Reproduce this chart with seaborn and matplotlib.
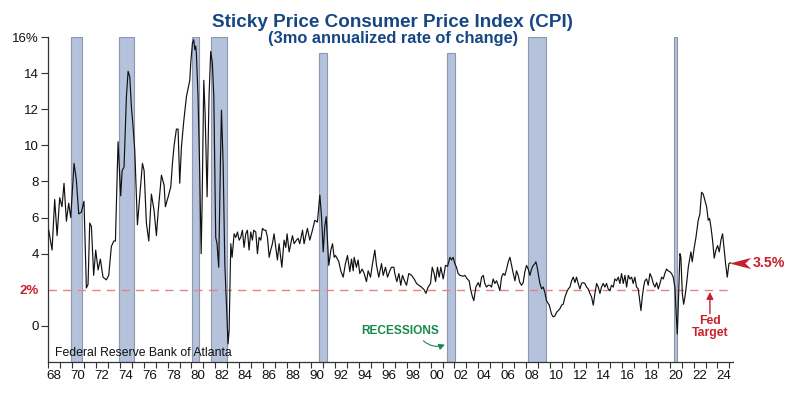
import matplotlib
matplotlib.use("Agg")
import matplotlib.pyplot as plt
from matplotlib.path import Path
import pandas as pd
import seaborn as sns

# Sticky price CPI, 3mo annualized rate of change (%)
dates = [
    1968.06, 1968.34, 1968.56, 1968.76, 1968.98, 1969.17, 1969.34, 1969.54, 1969.73, 1969.90,
    1970.18, 1970.37, 1970.57, 1970.79, 1971.01, 1971.21, 1971.35, 1971.49, 1971.63, 1971.82,
    1971.99, 1972.19, 1972.38, 1972.60, 1972.88, 1973.08, 1973.30, 1973.50, 1973.64, 1973.86,
    1974.08, 1974.20, 1974.36, 1974.56, 1974.70, 1974.84, 1974.98, 1975.12, 1975.26, 1975.48,
    1975.67, 1975.90, 1976.04, 1976.23, 1976.43, 1976.65, 1976.87, 1977.07, 1977.21, 1977.49,
    1977.71, 1977.82, 1978.05, 1978.27, 1978.41, 1978.55, 1978.74, 1978.88, 1979.02, 1979.16,
    1979.35, 1979.58, 1979.86, 1979.94, 1980.08, 1980.19, 1980.28, 1980.36, 1980.41, 1980.55,
    1980.69, 1980.81, 1980.89, 1981.03, 1981.14, 1981.31, 1981.47, 1981.61, 1981.75, 1981.87,
    1982.03, 1982.14, 1982.28, 1982.42, 1982.51, 1982.65, 1982.79, 1983.06, 1983.15, 1983.29,
    1983.40, 1983.57, 1983.71, 1983.85, 1983.99, 1984.12, 1984.26, 1984.40, 1984.54, 1984.68,
    1984.82, 1984.96, 1985.10, 1985.21, 1985.38, 1985.52, 1985.66, 1985.80, 1985.94, 1986.08,
    1986.22, 1986.36, 1986.50, 1986.63, 1986.77, 1986.91, 1987.05, 1987.19, 1987.33, 1987.56,
    1987.75, 1987.89, 1988.00, 1988.17, 1988.31, 1988.45, 1988.59, 1988.78, 1988.92, 1989.06,
    1989.29, 1989.42, 1989.56, 1989.70, 1989.90, 1990.12, 1990.32, 1990.54, 1990.74, 1990.88,
    1991.02, 1991.15, 1991.27, 1991.38, 1991.49, 1991.66, 1991.80, 1991.94, 1992.05, 1992.21,
    1992.33, 1992.49, 1992.69, 1992.88, 1993.05, 1993.25, 1993.39, 1993.53, 1993.61, 1993.80,
    1993.94, 1994.08, 1994.28, 1994.45, 1994.64, 1994.78, 1994.98, 1995.12, 1995.34, 1995.48,
    1995.67, 1995.90, 1996.04, 1996.23, 1996.40, 1996.59, 1996.73, 1996.93, 1997.01, 1997.18,
    1997.35, 1997.51, 1997.65, 1997.85, 1997.99, 1998.18, 1998.41, 1998.63, 1998.83, 1999.02,
    1999.24, 1999.47, 1999.61, 1999.80, 2000.00, 2000.14, 2000.30, 2000.42, 2000.58, 2000.72,
    2000.86, 2001.06, 2001.25, 2001.42, 2001.62, 2001.75, 2001.89, 2002.03, 2002.17, 2002.31,
    2002.45, 2002.73, 2002.87, 2003.07, 2003.23, 2003.34, 2003.51, 2003.62, 2003.79, 2003.99,
    2004.13, 2004.27, 2004.41, 2004.54, 2004.68, 2004.82, 2004.96, 2005.10, 2005.24, 2005.38,
    2005.52, 2005.66, 2005.80, 2005.94, 2006.08, 2006.22, 2006.36, 2006.50, 2006.64, 2006.78,
    2006.92, 2007.06, 2007.19, 2007.33, 2007.47, 2007.61, 2007.75, 2007.89, 2008.03, 2008.17,
    2008.31, 2008.45, 2008.59, 2008.73, 2008.81, 2008.92, 2009.03, 2009.15, 2009.29, 2009.43,
    2009.56, 2009.70, 2009.93, 2010.12, 2010.26, 2010.40, 2010.54, 2010.68, 2010.82, 2010.96,
    2011.10, 2011.24, 2011.38, 2011.52, 2011.66, 2011.80, 2011.94, 2012.08, 2012.21, 2012.35,
    2012.49, 2012.63, 2012.77, 2012.91, 2013.05, 2013.19, 2013.33, 2013.47, 2013.61, 2013.75,
    2013.89, 2014.03, 2014.17, 2014.30, 2014.44, 2014.58, 2014.72, 2014.86, 2015.00, 2015.14,
    2015.28, 2015.42, 2015.56, 2015.70, 2015.84, 2015.98, 2016.12, 2016.26, 2016.40, 2016.54,
    2016.68, 2016.82, 2016.95, 2017.09, 2017.23, 2017.37, 2017.46, 2017.60, 2017.71, 2017.82,
    2017.93, 2018.07, 2018.21, 2018.35, 2018.49, 2018.63, 2018.77, 2018.91, 2019.05, 2019.19,
    2019.33, 2019.47, 2019.60, 2019.74, 2019.88, 2020.02, 2020.16, 2020.30, 2020.44, 2020.55,
    2020.64, 2020.72, 2020.86, 2020.94, 2021.06, 2021.17, 2021.28, 2021.42, 2021.56, 2021.70,
    2021.78, 2021.89, 2022.06, 2022.20, 2022.39, 2022.53, 2022.67, 2022.81, 2022.95, 2023.09,
    2023.23, 2023.34, 2023.45, 2023.59, 2023.73, 2023.87, 2024.01, 2024.15, 2024.29, 2024.43,
    2024.54, 2024.68, 2024.82, 2024.96, 2025.10,
]
sticky_cpi = [
    5.3, 4.2, 7.0, 5.0, 7.1, 6.6, 7.9, 5.8, 6.8, 6.0,
    9.0, 8.1, 6.2, 6.3, 6.9, 2.1, 2.3, 5.7, 5.5, 2.8,
    4.2, 3.1, 3.7, 2.7, 2.55, 2.8, 4.4, 4.7, 4.7, 10.2,
    7.2, 8.6, 8.8, 12.7, 14.1, 13.8, 12.1, 11.0, 9.7, 5.6,
    7.15, 9.0, 8.6, 5.7, 4.7, 7.3, 6.4, 5.0, 6.3, 8.35,
    7.8, 6.6, 7.15, 7.7, 9.0, 10.0, 10.9, 10.9, 7.9, 9.9,
    11.3, 12.7, 13.6, 14.55, 15.65, 15.85, 15.3, 15.5, 15.1, 12.7,
    8.6, 4.0, 6.8, 13.6, 11.8, 7.15, 12.7, 15.2, 14.55, 12.7,
    4.9, 4.55, 3.25, 9.0, 11.95, 9.0, 3.45, -1.0, -0.25, 4.55,
    3.8, 5.1, 4.9, 5.2, 4.75, 4.9, 5.3, 4.35, 5.1, 5.3,
    4.2, 5.2, 4.75, 5.3, 5.2, 4.0, 4.9, 4.75, 5.4, 5.3,
    5.3, 4.9, 3.8, 4.2, 4.55, 5.1, 4.35, 3.65, 4.55, 3.25,
    4.75, 4.35, 5.1, 4.1, 4.55, 5.0, 4.55, 4.75, 4.85, 4.55,
    5.3, 4.55, 5.0, 5.4, 4.75, 5.3, 5.85, 5.75, 7.25, 6.05,
    4.1, 5.5, 6.05, 4.75, 3.35, 4.2, 4.55, 3.8, 3.9, 3.7,
    3.55, 3.05, 2.7, 3.45, 3.9, 3.0, 3.7, 3.05, 3.8, 3.25,
    3.65, 2.9, 3.15, 2.9, 2.45, 3.05, 2.7, 3.35, 4.2, 3.35,
    2.7, 3.45, 2.8, 3.25, 2.7, 3.05, 3.25, 3.25, 2.9, 2.45,
    2.9, 2.25, 2.8, 2.45, 2.25, 2.9, 2.8, 2.6, 2.35, 2.25,
    2.15, 2.0, 1.8, 2.15, 2.35, 3.25, 2.9, 2.45, 3.25, 2.7,
    3.25, 2.6, 3.35, 3.3, 3.8, 3.65, 3.8, 3.45, 3.25, 2.9,
    2.8, 2.75, 2.8, 2.6, 2.5, 2.05, 1.6, 1.4, 2.15, 2.4,
    2.15, 2.7, 2.8, 2.35, 2.15, 2.25, 2.25, 2.15, 2.6, 2.35,
    2.5, 2.25, 1.95, 2.7, 2.9, 2.8, 3.15, 3.55, 3.8, 3.35,
    2.9, 2.5, 3.05, 2.8, 2.4, 2.25, 2.4, 3.0, 3.35, 3.15,
    2.8, 3.15, 3.35, 3.45, 3.55, 3.25, 2.8, 2.35, 2.05, 2.15,
    1.85, 1.4, 1.15, 0.65, 0.5, 0.55, 0.75, 0.85, 0.95, 1.15,
    1.2, 1.6, 1.85, 2.05, 2.15, 2.5, 2.7, 2.4, 2.7, 2.35,
    2.05, 2.35, 2.4, 2.35, 2.15, 2.05, 1.8, 1.6, 1.15, 1.8,
    2.35, 2.15, 1.8, 2.15, 2.35, 2.15, 2.35, 2.05, 1.95, 2.25,
    2.15, 2.6, 2.5, 2.7, 2.35, 2.9, 2.35, 2.8, 2.15, 2.8,
    2.6, 2.7, 2.35, 2.7, 2.15, 2.05, 1.6, 0.85, 1.6, 2.15,
    2.5, 2.6, 2.25, 2.9, 2.7, 2.35, 2.15, 2.4, 2.05, 2.35,
    2.7, 2.6, 2.9, 3.15, 3.05, 3.0, 2.9, 2.7, 2.15, 0.65,
    -0.45, 1.05, 4.0, 3.8, 1.8, 1.2, 1.6, 2.35, 3.25, 3.8,
    4.1, 3.55, 4.35, 4.9, 5.85, 6.2, 7.4, 7.3, 6.95, 6.6,
    5.85, 5.95, 5.5, 4.75, 3.75, 4.2, 4.45, 4.1, 4.75, 5.1,
    4.35, 3.45, 2.7, 3.45, 3.5,
]

# recession bands as drawn (start, end, top of band in %)
rec_start = [1969.90, 1973.92, 1980.08, 1981.62, 1990.65, 2001.34, 2008.12, 2020.36]
rec_end = [1970.85, 1975.20, 1980.64, 1982.95, 1991.35, 2002.03, 2009.62, 2020.58]
rec_top = [16, 16, 16, 16, 15.1, 15.1, 16, 16]

fed_target = 2.0
latest_value = 3.5

year_labels = [f"{y % 100:02d}" for y in range(1968, 2025, 2)]
y_ticks = [0, 2, 4, 6, 8, 10, 12, 14, 16]
y_labels = ["0", "2%", "4", "6", "8", "10", "12", "14", "16%"]

blue = "#154784"
red = "#c8202a"
green = "#168a4e"

sns.set_style("ticks")
plt.rcParams["font.family"] = ["Liberation Sans", "DejaVu Sans"]

df = pd.DataFrame({"date": dates, "cpi": sticky_cpi})

fig = plt.figure(figsize=(8, 3.95), dpi=100)
ax = fig.add_axes([0.06, 0.0835, 0.85625, 0.8228])
ymin, ymax = -2, 16
xmin, xmax = 1968, 2025.3

# recessions
for s, e, top in zip(rec_start, rec_end, rec_top):
    ax.axvspan(s, e, ymin=0, ymax=(top - ymin) / (ymax - ymin),
               facecolor="#b4c2dc", edgecolor="#8e97ad", lw=0.8, zorder=1)

ax.axhline(fed_target, color="#e58484", lw=1, dashes=(6, 4.5), zorder=2)
sns.lineplot(data=df, x="date", y="cpi", ax=ax, color="#111111", lw=0.85,
             estimator=None, zorder=3)

ax.set_xlim(xmin, xmax)
ax.set_ylim(ymin, ymax)
ax.set(xlabel="", ylabel="")

# axes / ticks
sns.despine(ax=ax)
for side in ["left", "bottom"]:
    ax.spines[side].set_color("#333333")
    ax.spines[side].set_linewidth(0.9)

ax.set_xticks(range(1968, 2026))
ax.set_xticklabels([])
ax.set_xticks([y + 0.5 for y in range(1968, 2025, 2)], minor=True)
ax.set_xticklabels(year_labels, minor=True)
ax.tick_params(axis="x", which="major", direction="out", length=4, width=0.8, color="#333333")
ax.tick_params(axis="x", which="minor", length=0, pad=6, labelsize=9.6, labelcolor="#111111")

ax.set_yticks(y_ticks)
ax.set_yticklabels(y_labels)
ax.tick_params(axis="y", direction="out", length=5, width=0.8, color="#333333",
               pad=1.5, labelsize=9.5, labelcolor="#111111")
two = ax.get_yticklabels()[1]
two.set_color(red)
two.set_fontweight("bold")
ax.yaxis.get_major_ticks()[1].tick1line.set_visible(False)

# titles
fig.text(0.491, 0.9324, "Sticky Price Consumer Price Index (CPI)", ha="center",
         va="baseline", fontsize=13.6, fontweight="bold", color=blue)
fig.text(0.491, 0.8924, "(3mo annualized rate of change)", ha="center",
         va="baseline", fontsize=11.8, fontweight="bold", color=blue)

# annotations
ax.text(1968.55, -1.65, "Federal Reserve Bank of Atlanta", fontsize=8.8,
        color="#111111", va="baseline", ha="left")

ax.text(1997.5, -0.3, "RECESSIONS", fontsize=8.6, fontweight="bold",
        color=green, ha="center", va="center")
ax.annotate("", xy=(2001.2, -1.04), xytext=(1999.4, -0.82),
            arrowprops=dict(arrowstyle="-|>,head_length=0.35,head_width=0.18",
                            color=green, lw=0.8, shrinkA=0, shrinkB=0,
                            connectionstyle="arc3,rad=0.3"))

ax.text(2023.37, -0.06, "Fed\nTarget", fontsize=8.8, fontweight="bold", color=red,
        ha="center", va="center", linespacing=1.05)
ax.annotate("", xy=(2023.37, 1.87), xytext=(2023.37, 0.68),
            arrowprops=dict(arrowstyle="-|>,head_length=0.4,head_width=0.2",
                            color=red, lw=1, shrinkA=0, shrinkB=0))

# concave arrowhead pointing at the latest reading
head = Path([(-1, 0), (1, 0.52), (0.45, 0), (1, -0.52), (-1, 0)],
            [Path.MOVETO, Path.LINETO, Path.LINETO, Path.LINETO, Path.CLOSEPOLY])
ax.plot([2025.86], [latest_value], marker=head, markersize=15.5, color=red,
        markeredgewidth=0, linestyle="none", clip_on=False, zorder=4)
ax.text(2026.97, latest_value, f"{latest_value}%", fontsize=10.2, fontweight="bold",
        color=red, ha="left", va="center", clip_on=False)

fig.savefig("out.png", dpi=100)
